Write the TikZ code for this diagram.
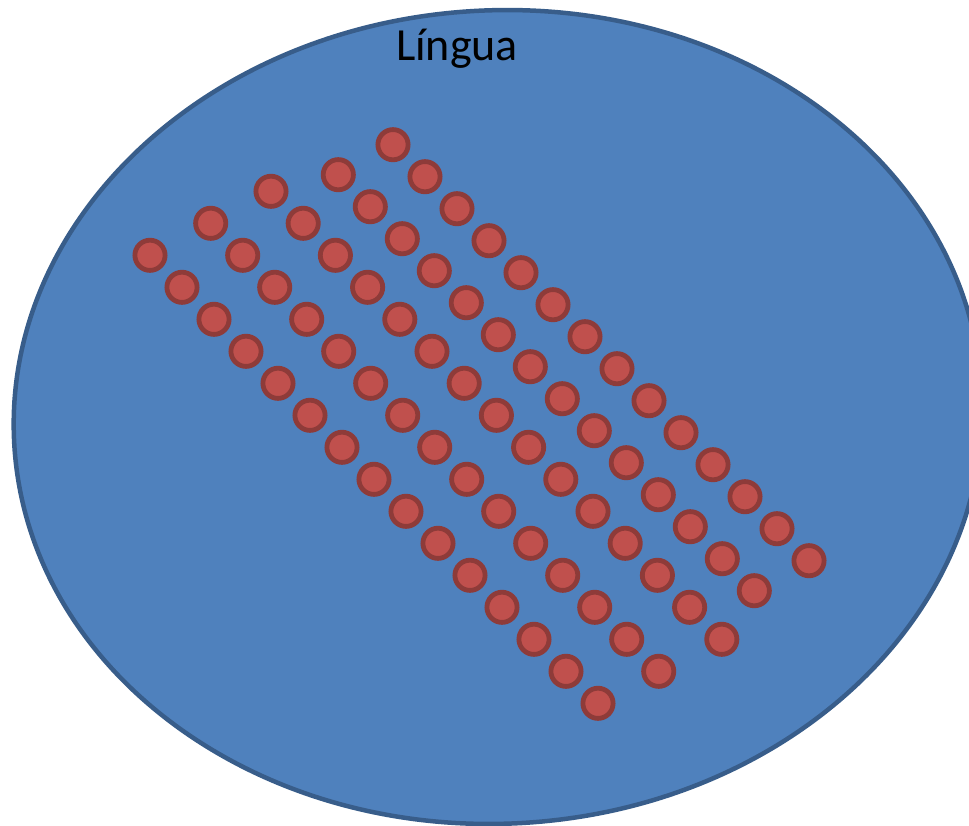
\documentclass[tikz,border=0pt]{standalone}
\usepackage{fontspec}
\setmainfont{Carlito}
\usetikzlibrary{shapes}
\definecolor{tonguefill}{HTML}{4F81BD}
\definecolor{tongueline}{HTML}{385D8A}
\definecolor{budfill}{HTML}{C0504D}
\definecolor{budline}{HTML}{8E3B39}

\begin{document}
\begin{tikzpicture}[x=1pt,y=-1pt,
  bud/.style={circle,draw=budline,fill=budfill,line width=4.8pt,minimum size=30.2pt,inner sep=0pt}]
 \useasboundingbox (0,0) rectangle (969,826);
 \clip (0,0) rectangle (969,826);
 \draw[tongueline,fill=tonguefill,line width=4.5pt,rotate around={3:(498,417)}] (498,417) ellipse [x radius=484.5, y radius=406.7];
 \node[anchor=base,inner sep=0pt] (title) at (457,61) {\fontsize{46}{55}\selectfont Língua};
 \foreach \row/\sx/\sy/\dx/\num in {a/150/255.3/32/14, b/210.7/223.3/32/14, c/271/191.3/32.2/14, d/338.3/174.7/32/13, e/393/144.7/32/13}
  \foreach \k in {0,...,\num}
   \node[bud] (\row\k) at (\sx+\k*\dx, \sy+\k*32) {};
\end{tikzpicture}
\end{document}
